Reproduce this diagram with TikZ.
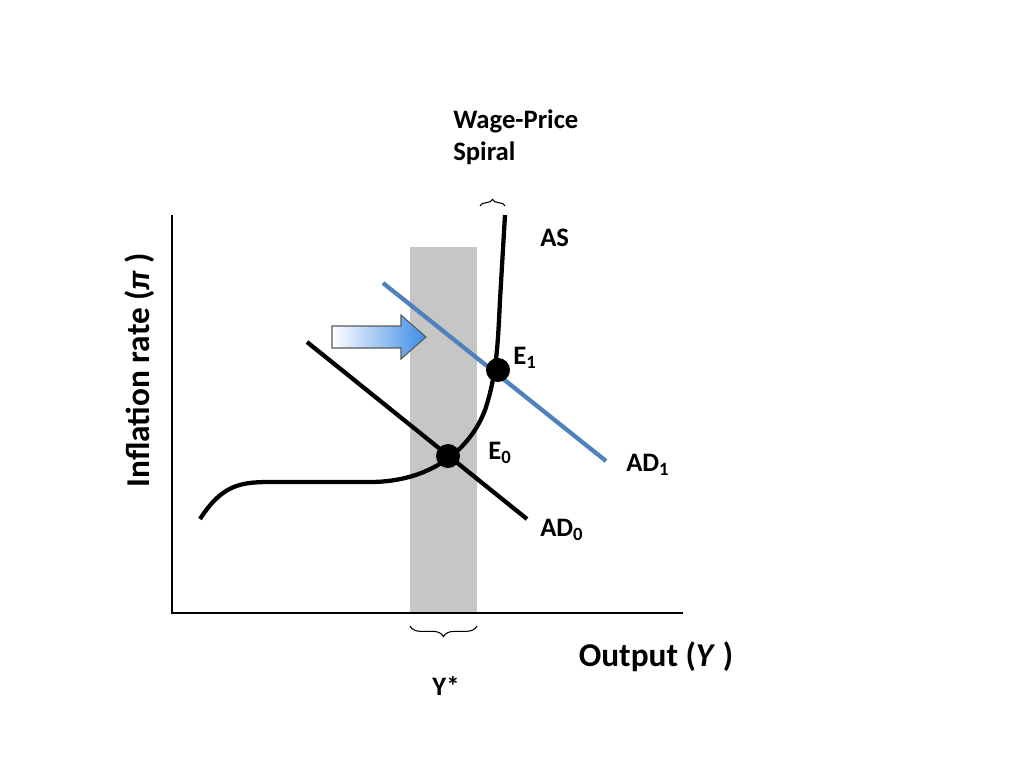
\documentclass[tikz,border=0pt]{standalone}
\usepackage{fontspec}
\setmainfont{Carlito}
\usetikzlibrary{decorations.pathreplacing}
\definecolor{adblue}{HTML}{4F81BD}
\definecolor{arrblue}{HTML}{3C8CE6}
\begin{document}
\begin{tikzpicture}[x=0.75pt,y=-0.75pt,
  lbl/.style={font=\bfseries\fontsize{20}{24}\selectfont,anchor=west,inner sep=0},
  axl/.style={font=\bfseries\fontsize{25}{30}\selectfont,inner sep=0},
  curve/.style={line width=3.2pt},
  dot/.style={circle,fill=black,minimum size=18pt,inner sep=0}]
\useasboundingbox (0,0) rectangle (1024,768);
\fill[gray!45] (410,247) rectangle (477,613);
\coordinate (o) at (172,613);
\coordinate (ytop) at (172,215);
\coordinate (xend) at (683,613);
\draw[line width=2.2pt] (ytop) -- (o) -- (xend);
\draw[curve] (200,519) .. controls (222,485) and (240,482) .. (270,482) -- (370,482) .. controls (430,482) and (470,450) .. (485,410) .. controls (497,375) and (498,340) .. (500,300) -- (505,215);
\coordinate (ad0a) at (307,342); \coordinate (ad0b) at (527,519);
\draw[curve] (ad0a) -- (ad0b);
\coordinate (ad1a) at (383,283); \coordinate (ad1b) at (606,461);
\draw[curve,adblue] (ad1a) -- (ad1b);
\node[dot] (e0) at (448,456) {};
\node[dot] (e1) at (498,370) {};
\shade[left color=white,right color=arrblue,draw=gray!70!black,line width=0.8pt]
 (332,326)--(401,326)--(401,315)--(426,337)--(401,359)--(401,348)--(332,348)--cycle;
\node[lbl] at (540,238) {AS};
\node[lbl] at (513,358) {E\textsubscript{1}};
\node[lbl] at (488,453) {E\textsubscript{0}};
\node[lbl] at (626,465) {AD\textsubscript{1}};
\node[lbl] at (540,530) {AD\textsubscript{0}};
\node[lbl,align=left,anchor=north west] at (453,110) {Wage-Price\\Spiral};
\draw[decorate,decoration={brace,amplitude=5pt},line width=0.8pt] (480,206) -- (505,206);
\draw[decorate,decoration={brace,amplitude=8pt},line width=0.8pt] (477,626) -- (410,626);
\node[lbl,anchor=center] at (446,686) {Y*};
\node[axl] at (656,657) {Output (\textit{Y} )};
\node[axl,rotate=90] at (140,370) {Inflation rate (\textit{π} )};
\end{tikzpicture}
\end{document}
